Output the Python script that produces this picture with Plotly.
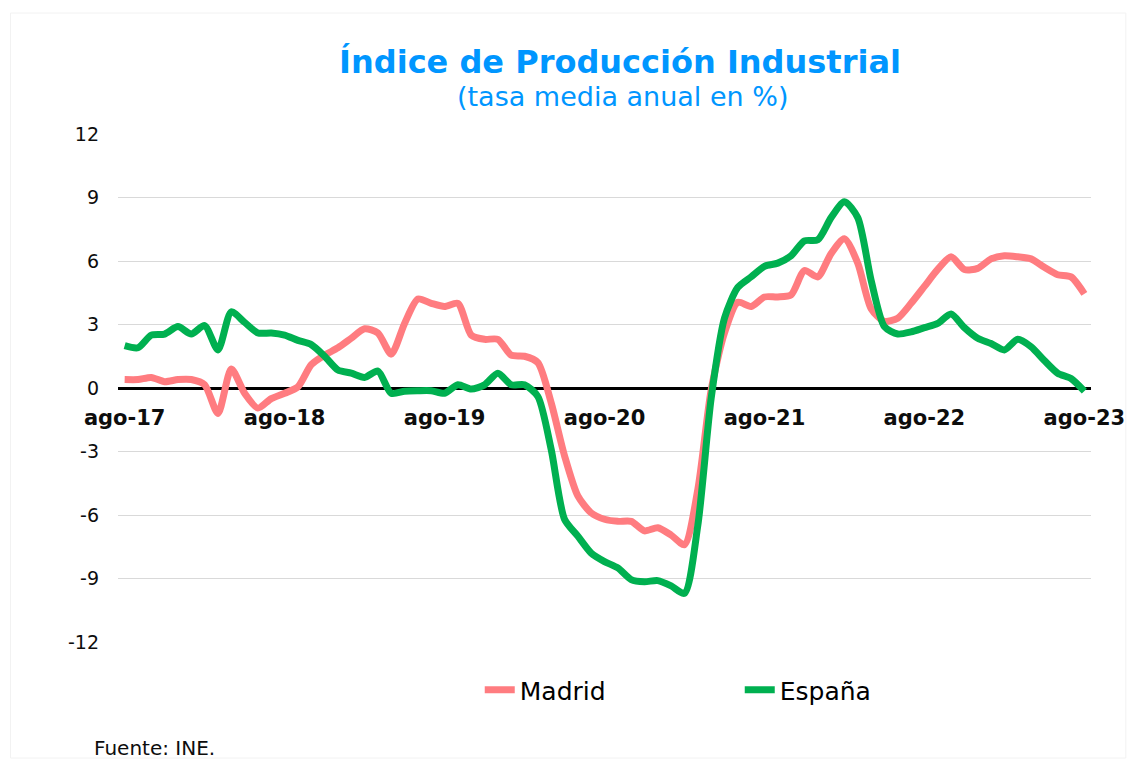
import plotly.graph_objects as go

month_abbr = ["ene", "feb", "mar", "abr", "may", "jun", "jul", "ago", "sep", "oct", "nov", "dic"]
start_year, start_month = 2017, 8
n_points = 73
categories = []
for k in range(n_points):
    m = (start_month - 1 + k) % 12
    y = start_year + (start_month - 1 + k) // 12
    categories.append(f"{month_abbr[m]}-{str(y)[2:]}")

madrid = [
    0.4, 0.4, 0.5, 0.3, 0.4,
    0.4, 0.15, -1.2, 0.9, -0.25, -0.95, -0.5, -0.25, 0.05, 1.1, 1.55, 1.9,
    2.35, 2.8, 2.6, 1.6, 3.05, 4.2, 4.0, 3.85, 4.0, 2.5, 2.3, 2.3,
    1.55, 1.5, 1.2, -0.7, -3.2, -5.1, -5.9, -6.2, -6.3, -6.3, -6.75, -6.6,
    -6.95, -7.4, -4.8, -0.1, 2.6, 4.05, 3.85, 4.3, 4.3, 4.4, 5.55, 5.25,
    6.35, 7.05, 5.9, 3.75, 3.15, 3.3, 4.0, 4.8, 5.6, 6.2, 5.6, 5.65,
    6.1, 6.25, 6.2, 6.1, 5.7, 5.35, 5.25, 4.45,
]
espana = [
    2.0, 1.9, 2.5, 2.55, 2.9,
    2.55, 2.95, 1.8, 3.6, 3.1, 2.6, 2.6, 2.5, 2.25, 2.05, 1.5, 0.85,
    0.7, 0.5, 0.8, -0.25, -0.15, -0.13, -0.13, -0.25, 0.15, -0.05, 0.15, 0.7,
    0.15, 0.15, -0.4, -2.9, -6.2, -7.0, -7.8, -8.2, -8.5, -9.05, -9.15, -9.1,
    -9.35, -9.7, -6.5, -0.5, 3.3, 4.75, 5.25, 5.75, 5.9, 6.25, 6.95, 7.0,
    8.05, 8.8, 8.05, 5.1, 2.9, 2.55, 2.65, 2.85, 3.05, 3.5, 2.85, 2.35,
    2.1, 1.8, 2.3, 1.95, 1.3, 0.7, 0.45, -0.15,
]
x_ticks = [c for c in categories if c.startswith("ago")]
y_ticks = [-12, -9, -6, -3, 0, 3, 6, 9, 12]

FONT = "DejaVu Sans, Verdana, sans-serif"
BLUE = "#0096FF"

# page body has an 8px margin, so the figure is 8px smaller on each side
W, H = 1129, 752

fig = go.Figure()
fig.add_trace(go.Scatter(x=categories, y=madrid, name="Madrid", mode="lines",
                         line=dict(color="#FF7C80", width=7, shape="spline", smoothing=0.7)))
fig.add_trace(go.Scatter(x=categories, y=espana, name="España", mode="lines",
                         line=dict(color="#00B050", width=7, shape="spline", smoothing=0.7)))

fig.update_layout(
    width=W, height=H,
    margin=dict(l=110, r=42, t=126, b=118),
    paper_bgcolor="white", plot_bgcolor="white",
    font=dict(family=FONT, color="#000000"),
    title=dict(text="<b>Índice de Producción Industrial</b>", x=612 / W, xanchor="center",
               y=1 - 54 / H, yanchor="middle", font=dict(size=32, color=BLUE, family=FONT)),
    showlegend=True,
    legend=dict(orientation="h", x=0.639, xanchor="center", y=-0.0945, yanchor="middle",
                font=dict(size=25, family=FONT, color="#000000"),
                entrywidth=215, entrywidthmode="pixels", bgcolor="rgba(0,0,0,0)"),
    xaxis=dict(type="category", categoryorder="array", categoryarray=categories,
               range=[-0.5, 72.5], tickmode="array", tickvals=x_ticks, ticktext=x_ticks,
               showgrid=False, anchor="free", position=0.5,
               showline=True, linecolor="#000000", linewidth=3, ticks="",
               tickfont=dict(size=21, family=FONT, color="#0D0D0D", weight="bold"),
               ticklabelstandoff=10, layer="below traces", fixedrange=True),
    yaxis=dict(range=[-12, 12], tickmode="array", tickvals=y_ticks,
               ticktext=[str(v) for v in y_ticks],
               showgrid=True, gridcolor="#D9D9D9", gridwidth=1, zeroline=False,
               showline=False, ticks="", ticklabelstandoff=18,
               tickfont=dict(size=19, family=FONT, color="#0D0D0D"), fixedrange=True),
    annotations=[
        dict(text="(tasa media anual en %)", xref="paper", yref="paper",
             x=(625 - 118) / 977, y=(642 - 97) / 508, xanchor="center", yanchor="middle",
             showarrow=False, font=dict(size=27, color=BLUE, family=FONT)),
        dict(text="Fuente: INE.", xref="paper", yref="paper",
             x=(92 - 118) / 977, y=(642 - 748) / 508, xanchor="left", yanchor="middle",
             showarrow=False, font=dict(size=20, color="#0D0D0D", family=FONT)),
    ],
    shapes=[
        dict(type="rect", xref="paper", yref="paper",
             x0=(10 - 118) / 977, x1=(1130 - 118) / 977,
             y0=(642 - 758) / 508, y1=(642 - 13) / 508,
             line=dict(color="#F2F2F2", width=1), layer="below"),
    ],
)

fig.write_html("out.html")
